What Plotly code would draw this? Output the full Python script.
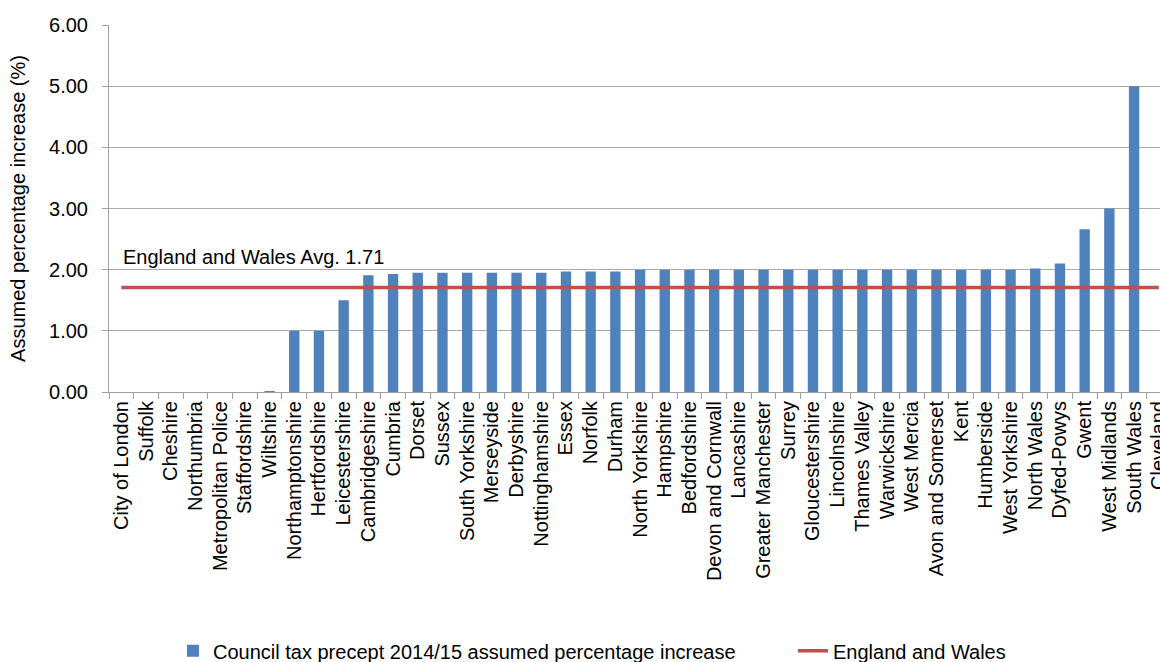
import plotly.graph_objects as go

categories = ["City of London", "Suffolk", "Cheshire", "Northumbria", "Metropolitan Police",
              "Staffordshire", "Wiltshire", "Northamptonshire", "Hertfordshire", "Leicestershire",
              "Cambridgeshire", "Cumbria", "Dorset", "Sussex", "South Yorkshire", "Merseyside",
              "Derbyshire", "Nottinghamshire", "Essex", "Norfolk", "Durham", "North Yorkshire",
              "Hampshire", "Bedfordshire", "Devon and Cornwall", "Lancashire", "Greater Manchester",
              "Surrey", "Gloucestershire", "Lincolnshire", "Thames Valley", "Warwickshire",
              "West Mercia", "Avon and Somerset", "Kent", "Humberside", "West Yorkshire",
              "North Wales", "Dyfed-Powys", "Gwent", "West Midlands", "South Wales", "Cleveland"]

precept_increase = [0.00, 0.00, 0.00, 0.00, 0.00,
                    0.00, 0.01, 1.00, 1.00, 1.50,
                    1.91, 1.93, 1.95, 1.95, 1.95, 1.95,
                    1.95, 1.95, 1.97, 1.97, 1.97, 2.00,
                    2.00, 2.00, 2.00, 2.00, 2.00,
                    2.00, 2.00, 2.00, 2.00, 2.00,
                    2.00, 2.00, 2.00, 2.00, 2.00,
                    2.02, 2.10, 2.66, 3.00, 5.00, None]

england_wales_avg = 1.71
avg_line = [england_wales_avg] * len(categories)

font_family = "Arial, Liberation Sans, sans-serif"
fs = 20

fig = go.Figure()
fig.add_trace(go.Bar(
    x=categories, y=precept_increase,
    name="Council tax precept 2014/15 assumed percentage increase",
    marker=dict(color="#4f81bd", line=dict(width=0)),
    width=0.42,
    legend="legend",
))
fig.add_trace(go.Scatter(
    x=categories, y=avg_line, mode="lines",
    name="England and Wales",
    line=dict(color="#c0504d", width=3.5),
    legend="legend2",
))

fig.add_annotation(
    x=0, y=2.21, xref="x", yref="y",
    text="England and Wales Avg. 1.71",
    showarrow=False, xanchor="left", yanchor="middle",
    font=dict(family=font_family, size=fs, color="black"),
)

legend_common = dict(
    orientation="h", xref="container", yref="container",
    y=0.017, xanchor="left", yanchor="middle",
    font=dict(family=font_family, size=fs, color="black"),
    bgcolor="rgba(0,0,0,0)",
)

fig.update_layout(
    width=1160, height=662,
    margin=dict(l=109, r=0, t=25, b=270),
    paper_bgcolor="white", plot_bgcolor="white",
    font=dict(family=font_family, size=fs, color="black"),
    showlegend=True,
    legend=dict(x=173 / 1160, **legend_common),
    legend2=dict(x=793 / 1160, **legend_common),
    bargap=0.58,
)

fig.update_xaxes(
    type="category", range=[-0.5, 42.05],
    tickangle=-90, ticks="outside", tickson="boundaries", ticklen=6,
    tickcolor="#a0a0a0", showline=True, linecolor="#a0a0a0", linewidth=1,
    showgrid=False, automargin=False, ticklabeloverflow="allow",
    tickfont=dict(family=font_family, size=fs, color="black"),
)
fig.update_yaxes(
    range=[0, 6], dtick=1, tickformat=".2f",
    ticks="outside", ticklen=6, tickcolor="#a0a0a0",
    showline=True, linecolor="#a0a0a0", linewidth=1,
    showgrid=True, gridcolor="#ababab", gridwidth=1.3,
    zeroline=False, automargin=False, ticklabelstandoff=10,
    title=dict(text="Assumed percentage increase (%)", standoff=18,
               font=dict(family=font_family, size=fs, color="black")),
    tickfont=dict(family=font_family, size=fs, color="black"),
)

fig.write_html(
    "out.html",
    config={"displayModeBar": False},
    post_script="document.body.style.margin='0';document.body.style.overflow='hidden';",
)
